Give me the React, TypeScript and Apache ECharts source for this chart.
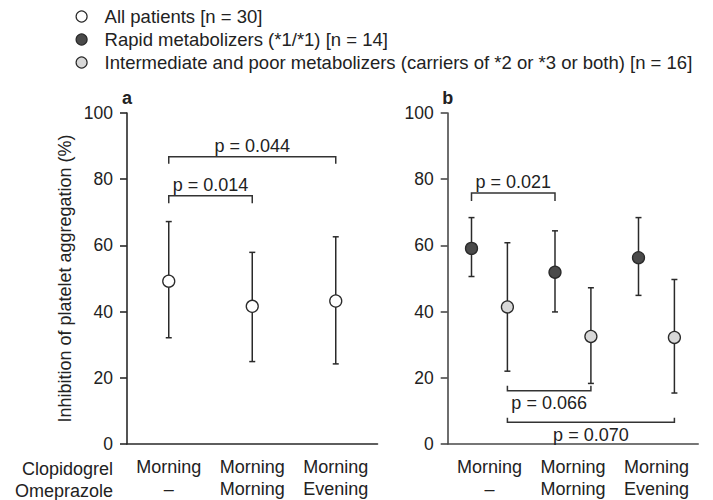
import React, { useEffect, useRef } from "react";
import * as echarts from "echarts";

// ---- Data ----
const categories = ["Morning\n–", "Morning\nMorning", "Morning\nEvening"];
const rowLabels = ["Clopidogrel", "Omeprazole"];
const yTicks = { min: 0, max: 100, interval: 20 };

const seriesNames = [
  "All patients [n = 30]",
  "Rapid metabolizers (*1/*1) [n = 14]",
  "Intermediate and poor metabolizers (carriers of *2 or *3 or both) [n = 16]",
];

const allMean = [49.2, 41.6, 43.2];
const allLow = [32.1, 24.9, 24.2];
const allHigh = [67.2, 57.9, 62.6];

const rapidMean = [59.1, 51.9, 56.3];
const rapidLow = [50.6, 39.9, 44.9];
const rapidHigh = [68.4, 64.4, 68.4];

const interMean = [41.4, 32.5, 32.2];
const interLow = [22.0, 18.3, 15.4];
const interHigh = [60.8, 47.2, 49.7];

// brackets: [fromCategory, toCategory, bracketLevel, tickEndLevel, label]
const bracketsA: [number, number, number, number, string][] = [
  [0, 1, 75.0, 72.7, "p = 0.014"],
  [0, 2, 86.8, 84.7, "p = 0.044"],
];
const bracketsBRapid: [number, number, number, number, string][] = [
  [0, 1, 75.8, 73.4, "p = 0.021"],
];
const bracketsBInter: [number, number, number, number, string][] = [
  [0, 1, 16.1, 17.6, "p = 0.066"],
  [0, 2, 6.6, 7.9, "p = 0.070"],
];

// ---- Styles ----
const FONT = "'Liberation Sans', Arial, Helvetica, sans-serif";
const FS = 18;
const FS_TICK = 17.5;
const FS_LEGEND = 18.5;
const INK = "#222";
const AXIS = ["#2a2a2a", "#4a4a4a"];
const fills = ["#ffffff", "#4a4a4a", "#d8d8d8"];
const OFFSET = 0.215; // fraction of band width for the two subgroups

function buildErrorSeries(
  name: string,
  idx: number,
  mean: number[],
  low: number[],
  high: number[],
  fill: string,
  offset: number
) {
  return {
    type: "custom",
    name,
    xAxisIndex: idx,
    yAxisIndex: idx,
    z: 3,
    encode: { x: 0, y: [1, 2, 3] },
    data: mean.map((m, i) => [i, m, low[i], high[i]]),
    renderItem: (params: any, api: any) => {
      const cat = api.value(0);
      const band = api.coord([1, 0])[0] - api.coord([0, 0])[0];
      const pm = api.coord([cat, api.value(1)]);
      const pl = api.coord([cat, api.value(2)]);
      const ph = api.coord([cat, api.value(3)]);
      const x = pm[0] + offset * band;
      const cap = 3;
      const ls = { stroke: "#2a2a2a", lineWidth: 1.5 };
      return {
        type: "group",
        children: [
          { type: "line", shape: { x1: x, y1: ph[1], x2: x, y2: pl[1] }, style: ls },
          { type: "line", shape: { x1: x - cap, y1: ph[1], x2: x + cap, y2: ph[1] }, style: ls },
          { type: "line", shape: { x1: x - cap, y1: pl[1], x2: x + cap, y2: pl[1] }, style: ls },
          {
            type: "circle",
            shape: { cx: x, cy: pm[1], r: 6 },
            style: { fill, stroke: "#2a2a2a", lineWidth: 1.3 },
          },
        ],
      };
    },
  };
}

function buildBracketSeries(
  idx: number,
  brackets: [number, number, number, number, string][],
  offset: number
) {
  return {
    type: "custom",
    name: "brackets" + idx + "_" + offset,
    xAxisIndex: idx,
    yAxisIndex: idx,
    z: 2,
    encode: { x: [0, 1], y: [2, 3] },
    data: brackets.map((b) => [b[0], b[1], b[2], b[3]]),
    renderItem: (params: any, api: any) => {
      const b = brackets[params.dataIndex];
      const band = api.coord([1, 0])[0] - api.coord([0, 0])[0];
      const p1 = api.coord([api.value(0), api.value(2)]);
      const p2 = api.coord([api.value(1), api.value(2)]);
      const tEnd = api.coord([api.value(0), api.value(3)])[1];
      const x1 = p1[0] + offset * band;
      const x2 = p2[0] + offset * band;
      const y = p1[1];
      const above = tEnd > y;
      return {
        type: "group",
        children: [
          {
            type: "polyline",
            shape: { points: [[x1, tEnd], [x1, y], [x2, y], [x2, tEnd]] },
            style: { stroke: "#333", lineWidth: 1.5, fill: "none" },
          },
          {
            type: "text",
            x: (x1 + x2) / 2,
            y: above ? y - 11 : y + 12.5,
            style: {
              text: b[4],
              font: `${FS}px ${FONT}`,
              fill: INK,
              align: "center",
              verticalAlign: "middle",
            },
          },
        ],
      };
    },
  };
}

function axisLineStyle(idx: number) {
  return { color: AXIS[idx], width: 1.6 };
}

function xAxis(idx: number) {
  return {
    type: "category",
    gridIndex: idx,
    data: categories,
    axisLine: { lineStyle: axisLineStyle(idx) },
    axisTick: { alignWithLabel: true, length: 7, lineStyle: axisLineStyle(idx) },
    axisLabel: {
      interval: 0,
      hideOverlap: false,
      fontSize: FS,
      fontFamily: FONT,
      color: INK,
      lineHeight: 22,
      margin: 12,
    },
    splitLine: { show: false },
  };
}

function yAxis(idx: number) {
  const base: any = {
    type: "value",
    gridIndex: idx,
    min: yTicks.min,
    max: yTicks.max,
    interval: yTicks.interval,
    axisLine: { show: true, lineStyle: axisLineStyle(idx) },
    axisTick: { show: true, length: 7, lineStyle: axisLineStyle(idx) },
    axisLabel: { fontSize: FS_TICK, fontFamily: FONT, color: INK, margin: 14 },
    splitLine: { show: false },
  };
  if (idx === 0) {
    base.name = "Inhibition of platelet aggregation (%)";
    base.nameLocation = "middle";
    base.nameGap = 53;
    base.nameTextStyle = { fontSize: FS, fontFamily: FONT, color: INK };
  }
  return base;
}

export default function App() {
  const ref = useRef<HTMLDivElement>(null);
  useEffect(() => {
    if (!ref.current) return;
    const chart = echarts.init(ref.current, undefined, { renderer: "svg" });
    chart.setOption({
      animation: false,
      backgroundColor: "#ffffff",
      textStyle: { fontFamily: FONT },
      legend: {
        orient: "vertical",
        left: 70.5,
        top: 2,
        padding: 5,
        itemWidth: 36,
        itemHeight: 11,
        itemGap: 4,
        selectedMode: false,
        symbolKeepAspect: true,
        textStyle: { fontSize: FS_LEGEND, fontFamily: FONT, color: INK },
        data: seriesNames.map((n, i) => ({
          name: n,
          icon: "circle",
          itemStyle: { color: fills[i], borderColor: "#2a2a2a", borderWidth: 1.2 },
        })),
      },
      grid: [
        { left: 127, top: 113, width: 250.5, height: 333 },
        { left: 447.7, top: 113, width: 250.5, height: 333 },
      ],
      xAxis: [xAxis(0), xAxis(1)],
      yAxis: [yAxis(0), yAxis(1)],
      graphic: [
        {
          type: "text",
          x: 127,
          y: 98,
          style: { text: "a", font: `bold ${FS}px ${FONT}`, fill: INK, align: "center", verticalAlign: "middle" },
        },
        {
          type: "text",
          x: 447.7,
          y: 98,
          style: { text: "b", font: `bold ${FS}px ${FONT}`, fill: INK, align: "center", verticalAlign: "middle" },
        },
        ...rowLabels.map((t, i) => ({
          type: "text",
          x: 113,
          y: 469 + i * 22,
          style: { text: t, font: `${FS}px ${FONT}`, fill: INK, align: "right", verticalAlign: "middle" },
        })),
      ],
      series: [
        buildBracketSeries(0, bracketsA, 0),
        buildBracketSeries(1, bracketsBRapid, -OFFSET),
        buildBracketSeries(1, bracketsBInter, OFFSET),
        buildErrorSeries(seriesNames[0], 0, allMean, allLow, allHigh, fills[0], 0),
        buildErrorSeries(seriesNames[1], 1, rapidMean, rapidLow, rapidHigh, fills[1], -OFFSET),
        buildErrorSeries(seriesNames[2], 1, interMean, interLow, interHigh, fills[2], OFFSET),
      ],
    });
    return () => chart.dispose();
  }, []);
  return <div ref={ref} style={{ width: 713, height: 500, position: "absolute", left: 0, top: 0 }} />;
}
